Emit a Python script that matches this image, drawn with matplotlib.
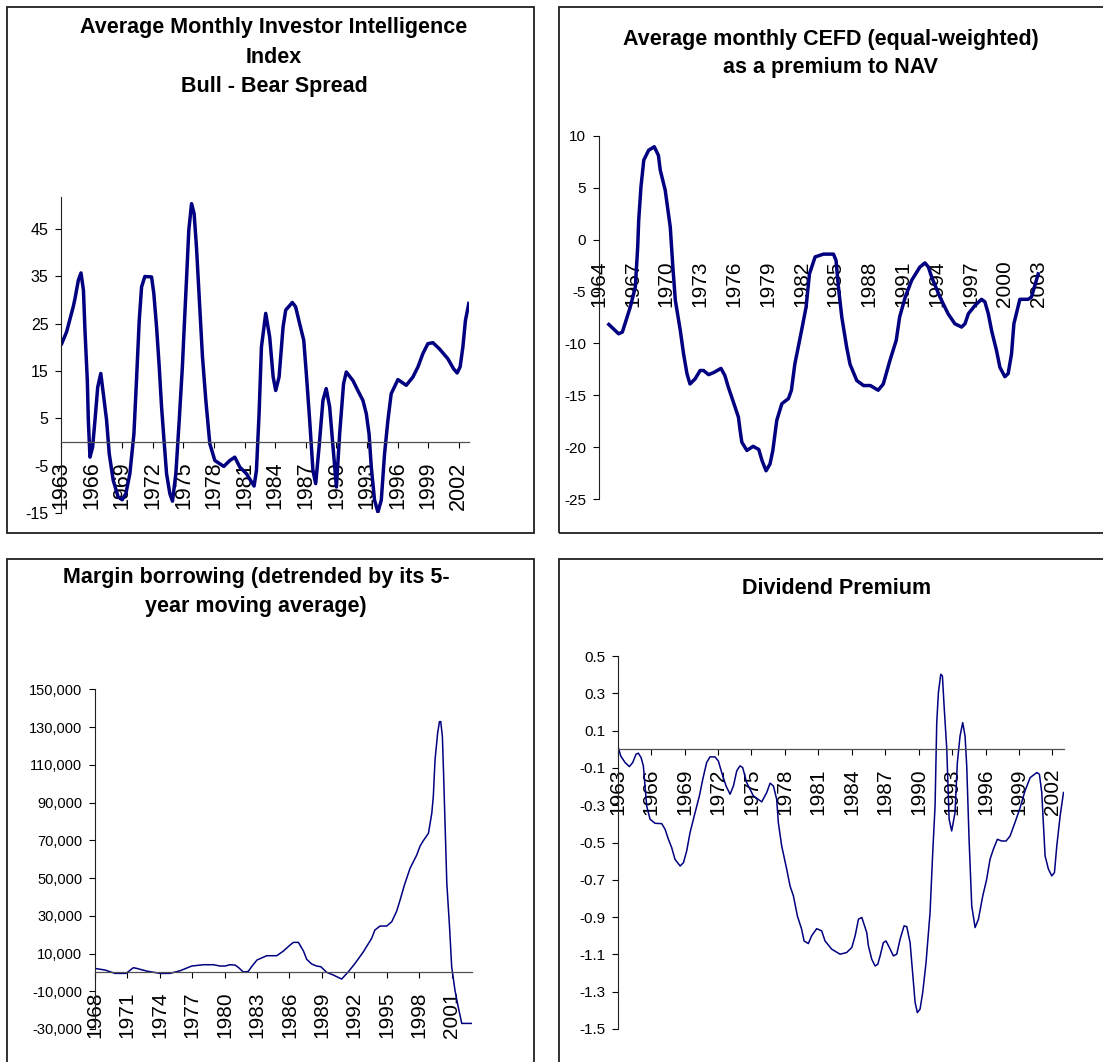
import numpy as np
import matplotlib
matplotlib.use('Agg')
import matplotlib.pyplot as plt
from matplotlib.patches import Rectangle
from matplotlib.ticker import FuncFormatter

plt.rcParams['font.family'] = ['Liberation Sans', 'DejaVu Sans']
plt.rcParams['axes.unicode_minus'] = False

# Investor Intelligence bull - bear spread
ii_year = [1963.07, 1963.55, 1964.2, 1964.37, 1964.7, 1964.96, 1965.2, 1965.35, 1965.58, 1965.68,
           1965.84, 1966.1, 1966.33, 1966.6, 1966.9, 1967.15, 1967.47, 1967.73, 1968.12, 1968.6,
           1969.0, 1969.36, 1969.75, 1970.15, 1970.4, 1970.67, 1970.9, 1971.22, 1971.88, 1972.1,
           1972.37, 1972.63, 1972.86, 1973.1, 1973.35, 1973.67, 1973.93, 1974.26, 1974.59, 1974.9,
           1975.08, 1975.3, 1975.53, 1975.8, 1976.05, 1976.28, 1976.6, 1976.87, 1977.2, 1977.59,
           1978.08, 1978.96, 1979.55, 1980.04, 1980.53, 1981.18, 1981.93, 1982.16, 1982.42, 1982.65,
           1983.07, 1983.46, 1983.8, 1984.05, 1984.38, 1984.77, 1985.03, 1985.68, 1986.0, 1986.4,
           1986.8, 1987.05, 1987.38, 1987.7, 1987.97, 1988.3, 1988.68, 1989.0, 1989.34, 1989.67,
           1990.0, 1990.32, 1990.7, 1990.97, 1991.62, 1992.1, 1992.6, 1992.93, 1993.2, 1993.42,
           1993.74, 1994.07, 1994.4, 1994.72, 1995.05, 1995.37, 1996.03, 1996.85, 1997.5, 1998.0,
           1998.48, 1998.97, 1999.46, 2000.1, 2000.93, 2001.48, 2001.84, 2002.13, 2002.4, 2002.65,
           2002.98]
ii_spread = [20.8, 23.3, 28.6, 30.3, 34.2, 35.75, 32.1, 23.6, 13, 4.6,
             -3.2, -1.06, 4.6, 11.6, 14.5, 10.2, 4.6, -2.5, -8.1, -11.6,
             -12.2, -10.9, -6.7, 1.76, 13, 25.7, 32.8, 35, 34.9, 31.4,
             24.3, 15.9, 7.4, 0.35, -6.7, -10.9, -12.5, -6.7, 4.6, 15.9,
             24.3, 34.2, 44.8, 50.4, 48.3, 41.3, 28.6, 18, 8.8, -0.35,
             -3.9, -5.15, -3.9, -3.2, -5.3, -6.7, -9.3, -6, 6, 20.1,
             27.2, 22.2, 13.75, 10.9, 13.75, 24.3, 27.9, 29.5, 28.6, 25,
             21.5, 14.5, 4.6, -6, -8.8, -1.06, 8.8, 11.3, 7.4, -1.06,
             -9.5, 1.76, 12.3, 14.8, 13, 10.9, 8.8, 6, 1.76, -5.3,
             -12.3, -14.8, -12.3, -2.5, 4.6, 10.2, 13.2, 12, 13.75, 15.9,
             18.7, 20.8, 21, 19.7, 17.6, 15.5, 14.6, 15.9, 20.1, 25.7,
             29.3]

# closed-end fund discount, premium to NAV
cefd_year = [1964.9, 1965.77, 1966.1, 1966.8, 1967.25, 1967.46, 1967.55, 1967.75, 1968.0, 1968.43,
             1968.93, 1969.3, 1969.46, 1969.9, 1970.35, 1970.6, 1970.8, 1971.24, 1971.53, 1971.83,
             1972.1, 1972.56, 1973.0, 1973.3, 1973.75, 1974.2, 1974.85, 1975.2, 1975.5, 1976.0,
             1976.4, 1976.55, 1976.7, 1977.15, 1977.7, 1978.2, 1978.5, 1978.85, 1979.2, 1979.45,
             1979.8, 1980.25, 1980.84, 1981.1, 1981.4, 1982.0, 1982.4, 1982.7, 1983.2, 1983.94,
             1984.83, 1985.06, 1985.27, 1985.57, 1986.0, 1986.3, 1986.9, 1987.5, 1988.1, 1988.8,
             1989.25, 1989.55, 1989.85, 1990.4, 1990.7, 1991.2, 1991.77, 1992.5, 1992.95, 1993.25,
             1993.54, 1994.28, 1995.0, 1995.6, 1996.2, 1996.5, 1996.8, 1997.4, 1997.97, 1998.27,
             1998.57, 1998.86, 1999.3, 1999.6, 2000.04, 2000.33, 2000.63, 2000.84, 2001.37, 2002.1,
             2002.4, 2003.0]
cefd_premium = [-8.17, -9.07, -8.9, -6.5, -4.57, -0.7, 1.86, 5.08, 7.65, 8.6,
                8.94, 8.1, 6.7, 4.76, 1.2, -2.96, -5.85, -8.75, -11, -12.9,
                -13.9, -13.4, -12.6, -12.6, -13, -12.8, -12.4, -13.1, -14.2, -15.8,
                -17.1, -18.4, -19.5, -20.3, -19.9, -20.2, -21.3, -22.25, -21.6, -20.3,
                -17.4, -15.8, -15.3, -14.5, -12, -8.75, -6.5, -3.3, -1.67, -1.4,
                -1.4, -2, -4.57, -7.46, -10.35, -12, -13.57, -14.05, -14.05, -14.5,
                -13.9, -12.76, -11.6, -9.7, -7.46, -5.53, -3.92, -2.64, -2.25, -2.64,
                -3.6, -5.53, -7.14, -8.1, -8.42, -8.1, -7.14, -6.33, -5.75, -6.0,
                -7.14, -8.75, -10.7, -12.3, -13.2, -12.9, -11, -8.1, -5.75, -5.75,
                -5.53, -3.3]

# margin borrowing minus its 5-year moving average
margin_year = [1968.0, 1968.96, 1969.88, 1970.9, 1971.57, 1971.88, 1972.8, 1974.04, 1974.96, 1975.9,
               1976.97, 1978.05, 1978.97, 1979.6, 1980.05, 1980.5, 1980.97, 1981.28, 1981.74, 1982.2,
               1982.5, 1983.0, 1983.9, 1984.83, 1985.44, 1986.06, 1986.37, 1986.83, 1987.3, 1987.6,
               1988.06, 1988.52, 1988.9, 1989.45, 1990.06, 1990.83, 1991.45, 1992.07, 1992.84, 1993.6,
               1993.9, 1994.38, 1995.0, 1995.46, 1995.92, 1996.23, 1996.63, 1997.15, 1997.77, 1998.08,
               1998.38, 1998.85, 1999.16, 1999.3, 1999.46, 1999.7, 1999.87, 1999.99, 2000.14, 2000.24,
               2000.55, 2000.8, 2001.0, 2001.3, 2001.6, 2001.93, 2002.85]
margin_detrended = [2120, 1240, -530, -530, 2470, 2120, 700, -530, -530, 880,
                    3360, 4060, 4060, 3360, 3360, 4060, 3890, 2650, 180, 530,
                    3000, 6540, 8840, 8840, 11300, 14490, 15900, 15900, 11300, 6900,
                    4420, 3360, 3000, 0, -1410, -3530, 350, 4770, 10950, 18020,
                    22440, 24560, 24560, 26860, 32510, 38340, 46290, 55130, 62200, 66970,
                    69800, 73690, 84290, 93120, 112560, 126700, 132880, 132880, 124930, 107260,
                    47180, 24210, 3000, -9370, -18200, -27040, -27040]

# dividend premium
div_year = [1963.0, 1963.27, 1963.66, 1964.05, 1964.35, 1964.64, 1964.85, 1965.1, 1965.3, 1965.45,
            1965.6, 1965.9, 1966.35, 1966.95, 1967.25, 1967.55, 1967.84, 1968.14, 1968.6, 1968.9,
            1969.19, 1969.49, 1969.94, 1970.33, 1970.63, 1970.98, 1971.28, 1971.73, 1972.03, 1972.33,
            1972.72, 1973.08, 1973.38, 1973.68, 1973.97, 1974.21, 1974.57, 1975.17, 1975.92, 1976.37,
            1976.67, 1976.97, 1977.26, 1977.41, 1977.71, 1978.16, 1978.46, 1978.76, 1979.12, 1979.5,
            1979.72, 1980.1, 1980.4, 1980.85, 1981.3, 1981.6, 1982.2, 1982.95, 1983.54, 1984.0,
            1984.3, 1984.6, 1984.9, 1985.34, 1985.49, 1985.79, 1986.09, 1986.33, 1986.54, 1986.83,
            1987.07, 1987.37, 1987.73, 1988.03, 1988.33, 1988.69, 1988.93, 1989.23, 1989.38, 1989.68,
            1989.88, 1990.12, 1990.36, 1990.66, 1991.02, 1991.26, 1991.47, 1991.62, 1991.77, 1991.98,
            1992.13, 1992.28, 1992.52, 1992.73, 1992.96, 1993.26, 1993.47, 1993.71, 1993.95, 1994.16,
            1994.31, 1994.52, 1994.76, 1995.06, 1995.36, 1995.75, 1996.1, 1996.4, 1996.7, 1997.06,
            1997.45, 1997.84, 1998.2, 1998.64, 1999.1, 1999.54, 2000.0, 2000.6, 2000.83, 2001.04,
            2001.34, 2001.64, 2001.94, 2002.18, 2002.39, 2002.69, 2002.99]
div_premium = [0.021, -0.036, -0.071, -0.093, -0.071, -0.027, -0.021, -0.045, -0.089, -0.197,
               -0.304, -0.375, -0.397, -0.399, -0.429, -0.483, -0.527, -0.59, -0.626, -0.608,
               -0.545, -0.447, -0.34, -0.25, -0.161, -0.071, -0.041, -0.041, -0.063, -0.125,
               -0.197, -0.241, -0.197, -0.116, -0.089, -0.098, -0.179, -0.25, -0.282, -0.232,
               -0.182, -0.197, -0.268, -0.393, -0.518, -0.643, -0.733, -0.786, -0.894, -0.965,
               -1.028, -1.042, -1.0, -0.962, -0.974, -1.028, -1.072, -1.099, -1.09, -1.063,
               -1.0, -0.911, -0.902, -0.983, -1.054, -1.126, -1.162, -1.153, -1.108, -1.037,
               -1.028, -1.063, -1.108, -1.099, -1.019, -0.947, -0.951, -1.037, -1.144, -1.358,
               -1.412, -1.394, -1.305, -1.144, -0.876, -0.554, -0.304, 0.143, 0.304, 0.402,
               0.393, 0.232, 0.0, -0.375, -0.438, -0.34, -0.071, 0.071, 0.143, 0.071,
               -0.089, -0.483, -0.84, -0.956, -0.911, -0.786, -0.697, -0.59, -0.536, -0.483,
               -0.492, -0.492, -0.465, -0.393, -0.313, -0.223, -0.152, -0.125, -0.134, -0.232,
               -0.572, -0.643, -0.679, -0.661, -0.518, -0.357, -0.232]

W, H = 1103, 1062
fig = plt.figure(figsize=(W / 100, H / 100), dpi=100)
fig.patch.set_facecolor('white')

LINE = '#000080'


def px_axes(x0, y0, x1, y1):
    # pixel box (top-left origin) -> figure axes
    return fig.add_axes([x0 / W, 1 - y1 / H, (x1 - x0) / W, (y1 - y0) / H])


def frame(x0, y0, x1, y1):
    fig.patches.append(Rectangle((x0 / W, 1 - y1 / H), (x1 - x0) / W, (y1 - y0) / H,
                                 transform=fig.transFigure, fill=False,
                                 edgecolor='#202020', lw=1.3))


def title(lines, cx, baselines):
    for s, b in zip(lines, baselines):
        fig.text(cx / W, 1 - b / H, s, ha='center', va='baseline',
                 fontsize=15.5, fontweight='bold')


def style(ax, xticks, yticks, ysize, xsize=15, show_x=True, yfmt=None):
    for s in ['top', 'right']:
        ax.spines[s].set_visible(False)
    ax.spines['left'].set_color('#202020')
    ax.spines['left'].set_linewidth(0.8)
    ax.spines['bottom'].set_position(('data', 0))
    ax.spines['bottom'].set_color('#505050')
    ax.spines['bottom'].set_linewidth(0.9)
    ax.set_xticks(xticks)
    ax.set_xticklabels([str(v) for v in xticks], rotation=90, fontsize=xsize,
                       va='top', ha='center')
    ax.set_yticks(yticks)
    if yfmt is not None:
        ax.yaxis.set_major_formatter(FuncFormatter(yfmt))
    ax.tick_params(axis='y', direction='out', length=4, width=0.8, labelsize=ysize, pad=5)
    ax.tick_params(axis='x', direction='out', length=4, width=0.8, pad=10)
    if not show_x:
        ax.spines['bottom'].set_visible(False)
        ax.tick_params(axis='x', length=0, pad=15)
    ax.set_facecolor('none')


# panel frames
frame(7, 7, 534, 533)
frame(559, 7, 1120, 533)
frame(7, 559, 534, 1080)
frame(559, 559, 1120, 1080)

# top left: Investor Intelligence
title(['Average Monthly Investor Intelligence', 'Index', 'Bull - Bear Spread'], 274, [33, 63, 92])
ax1 = px_axes(61, 197, 469, 513)
ax1.plot(ii_year, ii_spread, color=LINE, lw=2.5, solid_joinstyle='round')
ax1.set_xlim(1963, 2003)
ax1.set_ylim(-15, 51.8)
style(ax1, list(range(1963, 2003, 3)), list(range(-15, 46, 10)), 11.5, xsize=15.5)

# top right: CEFD
title(['Average monthly CEFD (equal-weighted)', 'as a premium to NAV'], 831, [45, 73])
ax2 = px_axes(598.7, 135.7, 1045, 499.3)
ax2.plot(cefd_year, cefd_premium, color=LINE, lw=2.5, solid_joinstyle='round')
ax2.set_xlim(1964, 2003.6)
ax2.set_ylim(-25, 10)
style(ax2, list(range(1964, 2004, 3)), list(range(-25, 11, 5)), 11, show_x=False)

# bottom left: margin borrowing
title(['Margin borrowing (detrended by its 5-', 'year moving average)'], 256, [583, 612])
ax3 = px_axes(94.7, 689.3, 471.7, 1029)
ax3.plot(margin_year, margin_detrended, color=LINE, lw=1.1)
ax3.set_xlim(1968, 2002.85)
ax3.set_ylim(-30000, 150000)
style(ax3, list(range(1968, 2002, 3)), list(range(-30000, 150001, 20000)), 10.5,
      yfmt=lambda v, p: f'{int(v):,}')

# bottom right: dividend premium
title(['Dividend Premium'], 837, [594])
ax4 = px_axes(617.7, 656, 1063.6, 1029)
ax4.plot(div_year, div_premium, color=LINE, lw=1.1)
ax4.set_xlim(1963, 2003)
ax4.set_ylim(-1.5, 0.5)
style(ax4, list(range(1963, 2003, 3)), list(np.round(np.arange(-1.5, 0.51, 0.2), 1)), 11,
      yfmt=lambda v, p: f'{v:.1f}')

fig.savefig('out.png', dpi=100)
